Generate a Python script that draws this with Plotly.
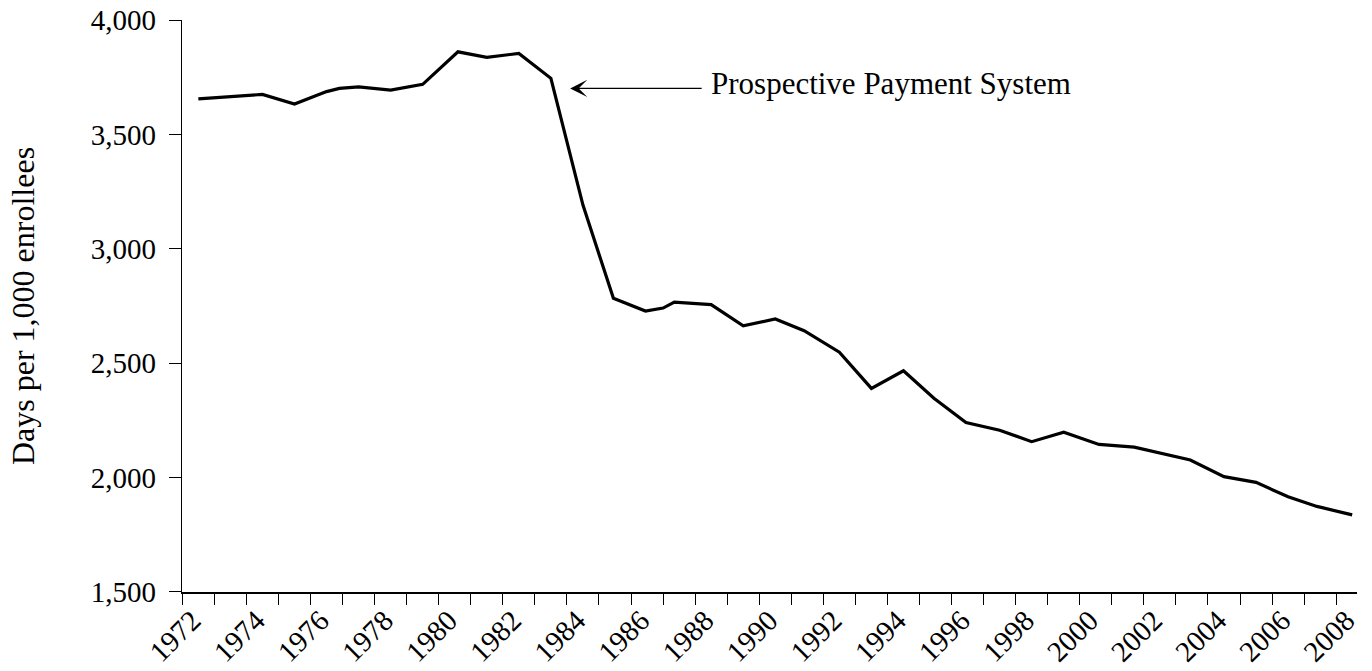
import plotly.graph_objects as go

# ---- data ----
years = [1972, 1974, 1975, 1976, 1976.4, 1977, 1978, 1979, 1980.1, 1981, 1982,
         1983, 1984, 1984.95, 1985.95, 1986.5, 1986.85, 1988, 1989, 1990, 1990.9,
         1992, 1993, 1994, 1994.95, 1995.95, 1997, 1998, 1999, 2000.1, 2001.2,
         2002.2, 2002.95, 2004, 2005, 2006, 2006.9, 2008]
days = [3655, 3675, 3633, 3687, 3701, 3708, 3694, 3719, 3861, 3837, 3854,
        3745, 3191, 2784, 2728, 2741, 2767, 2756, 2663, 2693, 2642,
        2548, 2390, 2467, 2347, 2241, 2207, 2157, 2198, 2145, 2133,
        2099, 2077, 2004, 1979, 1916, 1874, 1837]

label_years = list(range(1972, 2009, 2))
label_text = [str(y) for y in label_years]
minor_ticks = [y + 0.5 for y in range(1971, 2008)]
y_ticks = [1500, 2000, 2500, 3000, 3500, 4000]

annotation_text = "Prospective Payment System"
y_title = "Days per 1,000 enrollees"

FONT = "Liberation Serif"

# figure fills the whole window (body margin removed below)
W, H = 1372, 671
L, R, T, B = 182, 15, 20, 79

fig = go.Figure()
fig.add_trace(go.Scatter(
    x=years, y=days, mode="lines",
    line=dict(color="black", width=3.2),
    hoverinfo="skip", showlegend=False,
))

fig.update_layout(
    width=W, height=H,
    margin=dict(l=L, r=R, t=T, b=B),
    paper_bgcolor="white", plot_bgcolor="white",
    font=dict(family=FONT, size=30, color="black"),
    showlegend=False,
)

fig.update_xaxes(
    range=[1971.49, 2008.15],
    tickmode="array", tickvals=label_years, ticktext=label_text,
    tickangle=-45,
    ticks="", ticklabelstandoff=-2, ticklabelshift=-6,
    ticklabeloverflow="allow",
    tickfont=dict(family=FONT, size=29, color="black"),
    minor=dict(tickmode="array", tickvals=minor_ticks, ticks="outside",
               ticklen=11, tickwidth=1.3, tickcolor="black", showgrid=False),
    showline=True, linecolor="black", linewidth=1.7,
    showgrid=False, zeroline=False, automargin=False,
)

fig.update_yaxes(
    range=[1499.9, 4000.1],
    tickmode="array", tickvals=y_ticks, tickformat=",",
    ticks="outside", ticklen=12, tickwidth=1.3, tickcolor="black",
    ticklabelstandoff=7, ticklabeloverflow="allow",
    tickfont=dict(family=FONT, size=29, color="black"),
    showline=True, linecolor="black", linewidth=1.3,
    showgrid=False, zeroline=False, automargin=False,
)

# arrow
fig.add_annotation(
    x=1983.6, y=3701, xref="x", yref="y",
    ax=1987.75, ay=3701, axref="x", ayref="y",
    text="", showarrow=True, arrowhead=3, arrowsize=2.2, arrowwidth=1.3,
    arrowcolor="black", standoff=0,
)
# arrow label
fig.add_annotation(
    x=1987.93, y=3722, xref="x", yref="y",
    text=annotation_text, showarrow=False,
    xanchor="left", yanchor="middle",
    font=dict(family=FONT, size=31, color="black"),
)
# y-axis title
fig.add_annotation(
    x=(23 - L) / (W - L - R), y=0.5, xref="paper", yref="paper",
    text=y_title, showarrow=False, textangle=-90,
    xanchor="center", yanchor="middle",
    font=dict(family=FONT, size=32, color="black"),
)

fig.write_html(
    "out.html",
    config={"displayModeBar": False},
    post_script="document.body.style.margin='0';document.body.style.overflow='hidden';",
)
